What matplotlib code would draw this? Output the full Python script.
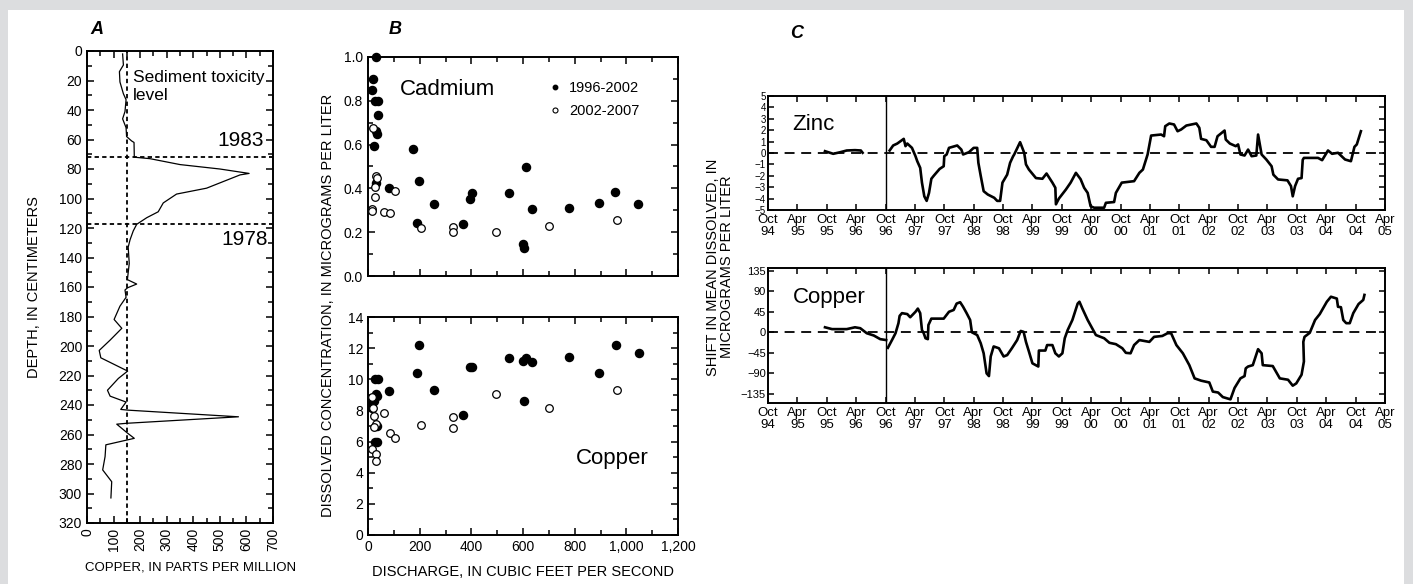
import matplotlib
matplotlib.use('Agg')
import matplotlib.pyplot as plt
import numpy as np
from matplotlib.patches import Rectangle
from matplotlib.lines import Line2D
from matplotlib.ticker import MultipleLocator, FixedLocator

plt.rcParams['font.family'] = ['Liberation Sans Narrow', 'Liberation Sans', 'DejaVu Sans']

# ---------------- DATA ----------------
# Panel A: sediment core
core_copper_ppm = [134, 137, 122, 124, 137, 147, 143, 134, 147, 149, 168, 177, 178, 237, 350, 500, 610,
                   576, 450, 337, 287, 268, 225, 187, 174, 162, 155, 159, 152, 187, 153, 143, 147, 124,
                   102, 131, 87, 46, 52, 153, 118, 77, 87, 147, 127, 155, 570, 149, 112, 152, 178, 71,
                   68, 59, 93, 90]
core_depth_cm = [2, 9.5, 14, 21, 29, 33, 41, 46, 52, 58, 61, 62, 72, 73, 77, 80, 83,
                 84, 93, 97, 103, 109, 113, 117.5, 122, 128, 133, 144, 155, 158, 160.5, 162, 167, 173,
                 182, 188, 196, 203, 208, 217, 222, 230, 234, 238, 243, 243.5, 248, 252.4, 253, 259, 262.6, 267,
                 275, 284, 292, 303]
toxicity_level_ppm = 150
year_depths = [72, 117]
year_labels = ['1983', '1978']

# Panel B: cadmium vs discharge
cd_q_9602 = [31, 21, 17, 27, 37, 37, 31, 33, 25, 31, 83, 176, 199, 188, 257, 369, 395, 404, 545,
             612, 634, 601, 605, 778, 895, 956, 1046]
cd_9602 = [1.0, 0.90, 0.85, 0.80, 0.80, 0.737, 0.66, 0.65, 0.595, 0.425, 0.40, 0.58, 0.434, 0.24, 0.327,
           0.236, 0.35, 0.377, 0.377, 0.496, 0.305, 0.145, 0.127, 0.31, 0.333, 0.382, 0.33]
cd_q_0207 = [21, 31, 33, 27, 26, 14, 17, 63, 85, 106, 205, 330, 328, 495, 700, 965]
cd_0207 = [0.677, 0.457, 0.446, 0.408, 0.362, 0.306, 0.297, 0.292, 0.289, 0.39, 0.218, 0.224, 0.202,
           0.20, 0.23, 0.257]

# Panel B: copper vs discharge
cu_q_9602 = [199, 188, 27, 37, 31, 33, 17, 22, 14, 36, 27, 35, 83, 257, 369, 395, 404, 545, 599, 612,
             634, 605, 778, 895, 960, 1050]
cu_9602 = [12.18, 10.42, 10.0, 10.0, 9.05, 8.9, 8.45, 8.6, 8.17, 7.0, 5.99, 5.99, 9.24, 9.3, 7.68,
           10.76, 10.76, 11.34, 11.2, 11.34, 11.08, 8.62, 11.4, 10.4, 12.2, 11.7]
cu_q_0207 = [14, 21, 25, 31, 25, 14, 30, 31, 63, 85, 106, 205, 330, 328, 495, 700, 965]
cu_0207 = [8.88, 8.17, 7.64, 7.13, 6.91, 5.5, 5.2, 4.77, 7.81, 6.53, 6.2, 7.08, 7.6, 6.89, 9.03, 8.13, 9.3]

# Panel C: shift in mean dissolved (decimal years); NaN marks the data gap
zinc_year = [1995.72, 1995.86, 1995.98, 1996.09, 1996.23, 1996.33, 1996.36, np.nan,
             1996.82, 1996.88, 1996.95, 1997.06, 1997.09, 1997.12, 1997.20, 1997.26, 1997.29, 1997.34,
             1997.37, 1997.41, 1997.45, 1997.49, 1997.53, 1997.57, 1997.67, 1997.74, 1997.75, 1997.79,
             1997.83, 1997.97, 1998.04, 1998.07, 1998.17, 1998.25, 1998.31, 1998.33, 1998.37, 1998.42,
             1998.49, 1998.60, 1998.65, 1998.70, 1998.74, 1998.82, 1998.87, 1998.92, 1998.94, 1999.04,
             1999.11, 1999.14, 1999.19, 1999.31, 1999.42, 1999.49, 1999.59, 1999.64, 1999.65, 1999.70,
             1999.82, 1999.90, 1999.99, 2000.07, 2000.13, 2000.19, 2000.24, 2000.30, 2000.47, 2000.50,
             2000.64, 2000.67, 2000.77, 2000.98, 2001.07, 2001.13, 2001.21, 2001.27, 2001.44, 2001.49,
             2001.51, 2001.58, 2001.66, 2001.72, 2001.78, 2001.87, 2002.04, 2002.09, 2002.12, 2002.21,
             2002.29, 2002.35, 2002.40, 2002.52, 2002.54, 2002.61, 2002.71, 2002.75, 2002.79, 2002.86,
             2002.92, 2002.98, 2003.06, 2003.09, 2003.15, 2003.23, 2003.32, 2003.35, 2003.43, 2003.59,
             2003.65, 2003.68, 2003.72, 2003.77, 2003.83, 2003.85, 2003.87, 2004.11, 2004.18, 2004.28,
             2004.35, 2004.45, 2004.57, 2004.67, 2004.73, 2004.77, 2004.84]
zinc_shift = [0.16, -0.07, 0.07, 0.22, 0.25, 0.22, 0.02, np.nan,
              0.22, 0.66, 0.83, 1.24, 0.6, 0.83, 0.45, -0.28, -0.72, -1.3,
              -2.6, -3.8, -4.2, -3.5, -2.26, -2.0, -1.4, -1.16, -0.28, -0.13,
              0.45, 0.66, 0.3, -0.13, 0.07, 0.45, 0.45, -0.86, -2.0, -3.35,
              -3.64, -3.93, -4.2, -4.2, -2.6, -1.9, -0.86, -0.3, -0.13, 0.95,
              0.02, -1.0, -1.45, -2.2, -2.26, -1.8, -2.6, -3.05, -4.5, -4.0,
              -3.2, -2.6, -1.74, -2.3, -3.05, -3.5, -4.67, -4.8, -4.8, -4.37,
              -4.3, -3.5, -2.6, -2.47, -1.74, -1.45, -0.13, 1.53, 1.62, 1.47,
              2.35, 2.59, 2.5, 1.91, 2.06, 2.41, 2.59, 2.21, 1.24, 1.12,
              0.54, 0.54, 1.47, 1.97, 1.18, 0.83, 0.6, 0.75, -0.13, -0.22,
              0.3, -0.28, -0.22, 1.62, -0.13, -0.57, -1.16, -1.9, -2.32, -2.4,
              -2.9, -3.8, -2.9, -2.26, -2.2, -0.6, -0.43, -0.43, -0.63, 0.22,
              -0.07, 0.02, -0.57, -0.72, 0.54, 0.75, 1.91]

copper_year = [1995.72, 1995.84, 1996.09, 1996.23, 1996.32, 1996.43, 1996.55, 1996.66, 1996.76, np.nan,
               1996.79, 1996.86, 1996.92, 1996.97, 1996.99, 1997.03, 1997.12, 1997.17, 1997.26, 1997.30,
               1997.34, 1997.37, 1997.40, 1997.43, 1997.47, 1997.48, 1997.53, 1997.74, 1997.83, 1997.91,
               1997.96, 1998.02, 1998.07, 1998.13, 1998.19, 1998.22, 1998.31, 1998.37, 1998.42, 1998.47,
               1998.51, 1998.54, 1998.59, 1998.68, 1998.76, 1998.82, 1998.90, 1998.99, 1999.05, 1999.10,
               1999.14, 1999.19, 1999.25, 1999.35, 1999.36, 1999.47, 1999.50, 1999.59, 1999.64, 1999.70,
               1999.76, 1999.80, 1999.85, 1999.93, 2000.02, 2000.05, 2000.10, 2000.19, 2000.33, 2000.47,
               2000.56, 2000.67, 2000.78, 2000.84, 2000.92, 2000.98, 2001.07, 2001.24, 2001.32, 2001.46,
               2001.55, 2001.61, 2001.70, 2001.81, 2001.92, 2002.01, 2002.12, 2002.26, 2002.32, 2002.41,
               2002.49, 2002.62, 2002.69, 2002.79, 2002.86, 2002.88, 2002.92, 2003.00, 2003.09, 2003.15,
               2003.17, 2003.34, 2003.46, 2003.60, 2003.68, 2003.74, 2003.83, 2003.87, 2003.86, 2003.88,
               2003.97, 2004.06, 2004.14, 2004.26, 2004.33, 2004.43, 2004.45, 2004.50, 2004.54, 2004.59,
               2004.65, 2004.71, 2004.80, 2004.88, 2004.90]
copper_shift = [11, 7, 7, 11, 9, -2, -7, -15, -17, np.nan,
                -34, -17, -2, 20, 36, 42, 40, 33, 45, 52,
                42, 5, -2, -13, -15, 16, 30, 30, 45, 49,
                63, 66, 56, 42, 27, 0, -6, -24, -46, -90,
                -96, -53, -31, -35, -53, -50, -35, -17, 3, 1,
                -21, -42, -68, -75, -40, -40, -28, -28, -46, -53,
                -46, -13, 5, 27, 63, 67, 52, 27, -6, -13,
                -23, -26, -35, -45, -46, -28, -17, -21, -10, -8,
                -2, -2, -28, -46, -72, -101, -106, -110, -130, -132,
                -142, -147, -122, -101, -96, -79, -75, -72, -37, -46,
                -72, -74, -101, -104, -117, -112, -93, -64, -21, -10,
                -1, 27, 40, 67, 78, 74, 56, 55, 27, 20,
                20, 42, 62, 71, 82]

c_tick_years = [1994.75 + 0.5 * i for i in range(22)]
c_tick_labels = [('Oct' if i % 2 == 0 else 'Apr') + '\n' + '%02d' % (int(1994.75 + 0.5 * i) % 100)
                 for i in range(22)]
c_break_year = 1996.75

# ---------------- FIGURE ----------------
W, H = 1413, 584
fig = plt.figure(figsize=(W / 100, H / 100), dpi=100)
fig.patch.set_facecolor('#dcdddf')
fig.patches.append(Rectangle((8 / W, 0), (1404 - 8) / W, (584 - 10) / H, transform=fig.transFigure,
                             facecolor='white', edgecolor='none', zorder=-10))


def box(l, t, r, b):
    return [l / W, 1 - b / H, (r - l) / W, (b - t) / H]


def style(ax, fs=10):
    ax.set_facecolor('none')
    for s in ax.spines.values():
        s.set_linewidth(1.4)
    ax.tick_params(which='both', direction='in', top=True, right=True, width=1.1, labelsize=fs)
    ax.tick_params(which='major', length=5)
    ax.tick_params(which='minor', length=3.5)


# Panel A
axA = fig.add_axes(box(87, 51, 273, 523))
axA.plot(core_copper_ppm, core_depth_cm, color='black', lw=0.9)
axA.axvline(toxicity_level_ppm, color='black', lw=1.3, ls=(0, (2.4, 1.8)))
for d in year_depths:
    axA.axhline(d, color='black', lw=1.3, ls=(0, (2.4, 1.8)))
axA.set_xlim(0, 700)
axA.set_ylim(320, 0)
axA.xaxis.set_major_locator(MultipleLocator(100))
axA.xaxis.set_minor_locator(MultipleLocator(50))
axA.yaxis.set_major_locator(MultipleLocator(20))
axA.yaxis.set_minor_locator(MultipleLocator(10))
style(axA, 10)
axA.tick_params(axis='x', labelrotation=90)
axA.set_ylabel('DEPTH, IN CENTIMETERS', fontsize=10.5, labelpad=13)
axA.text(0.245, 0.96, 'Sediment toxicity\nlevel', transform=axA.transAxes, ha='left', va='top',
         fontsize=12.5, linespacing=1.25)
axA.text(0.70, 0.81, year_labels[0], transform=axA.transAxes, ha='left', va='center', fontsize=15)
axA.text(0.725, 0.60, year_labels[1], transform=axA.transAxes, ha='left', va='center', fontsize=15)
fig.text(85 / W, 1 - 568 / H, 'COPPER, IN PARTS PER MILLION', ha='left', va='center', fontsize=9.5)

# Panel B top: cadmium
axB1 = fig.add_axes(box(368, 57, 678, 276))
axB1.scatter(cd_q_9602, cd_9602, s=34, color='black', zorder=3, clip_on=False)
axB1.scatter(cd_q_0207, cd_0207, s=30, facecolor='white', edgecolor='black', lw=0.9, zorder=3)
axB1.set_xlim(0, 1200)
axB1.set_ylim(0, 1.0)
axB1.xaxis.set_major_locator(MultipleLocator(200))
axB1.xaxis.set_minor_locator(MultipleLocator(100))
axB1.yaxis.set_major_locator(MultipleLocator(0.2))
axB1.yaxis.set_minor_locator(MultipleLocator(0.1))
axB1.yaxis.set_major_formatter(matplotlib.ticker.FormatStrFormatter('%.1f'))
style(axB1, 10)
axB1.tick_params(axis='x', labelbottom=False)
axB1.text(0.103, 0.85, 'Cadmium', transform=axB1.transAxes, ha='left', va='center', fontsize=16)
hands = [Line2D([], [], marker='o', ls='', color='black', markersize=3.2),
         Line2D([], [], marker='o', ls='', markerfacecolor='white', markeredgecolor='black',
                markersize=3.6, markeredgewidth=0.8)]
axB1.legend(hands, ['1996-2002', '2002-2007'], loc='upper left', bbox_to_anchor=(0.55, 0.93),
            frameon=False, fontsize=10.5, handlelength=1.0, handletextpad=0.5, labelspacing=0.6,
            borderaxespad=0.2)

# Panel B bottom: copper
axB2 = fig.add_axes(box(368, 317, 678, 535))
axB2.scatter(cu_q_9602, cu_9602, s=34, color='black', zorder=3)
axB2.scatter(cu_q_0207, cu_0207, s=30, facecolor='white', edgecolor='black', lw=0.9, zorder=3)
axB2.set_xlim(0, 1200)
axB2.set_ylim(0, 14)
axB2.xaxis.set_major_locator(MultipleLocator(200))
axB2.xaxis.set_minor_locator(MultipleLocator(100))
axB2.yaxis.set_major_locator(MultipleLocator(2))
axB2.yaxis.set_minor_locator(MultipleLocator(1))
axB2.xaxis.set_major_formatter(matplotlib.ticker.FuncFormatter(lambda v, p: '{:,.0f}'.format(v)))
style(axB2, 10)
axB2.text(0.671, 0.353, 'Copper', transform=axB2.transAxes, ha='left', va='center', fontsize=16)
axB2.set_xlabel('DISCHARGE, IN CUBIC FEET PER SECOND', fontsize=10.5, labelpad=8)
fig.text(328 / W, 1 - 305 / H, 'DISSOLVED CONCENTRATION, IN MICROGRAMS PER LITER', rotation=90,
         ha='center', va='center', fontsize=10.5)

# Panel C
axC1 = fig.add_axes(box(768, 96, 1385, 210))
axC2 = fig.add_axes(box(768, 268, 1385, 403))
for ax, xs, ys in ((axC1, zinc_year, zinc_shift), (axC2, copper_year, copper_shift)):
    ax.plot(xs, ys, color='black', lw=1.9)
    ax.axhline(0, color='black', lw=1.3, ls=(0, (5.5, 3.7)))
    ax.axvline(c_break_year, color='black', lw=1.0)
    ax.set_xlim(1994.75, 2005.25)
    ax.xaxis.set_major_locator(FixedLocator(c_tick_years))
    style(ax, 9.5)
    ax.set_xticklabels(c_tick_labels, fontsize=9.5, linespacing=0.95)
    ax.tick_params(axis='both', length=4, pad=2)
    ax.tick_params(axis='x', pad=3)
axC1.set_ylim(-5, 5)
axC1.yaxis.set_major_locator(MultipleLocator(1))
axC1.tick_params(axis='y', labelsize=7, pad=1.5)
axC2.set_ylim(-155, 141)
axC2.yaxis.set_major_locator(FixedLocator([-135, -90, -45, 0, 45, 90, 135]))
axC2.tick_params(axis='y', labelsize=8, pad=1.5)
axC1.text(0.04, 0.746, 'Zinc', transform=axC1.transAxes, ha='left', va='center', fontsize=16)
axC2.text(0.04, 0.778, 'Copper', transform=axC2.transAxes, ha='left', va='center', fontsize=16)
fig.text(720 / W, 1 - 267 / H, 'SHIFT IN MEAN DISSOLVED, IN\nMICROGRAMS PER LITER', rotation=90,
         ha='center', va='center', fontsize=10.5, multialignment='center', linespacing=1.05)

# Panel letters
for lbl, x, y in (('A', 97, 29), ('B', 395, 29), ('C', 797, 33)):
    fig.text(x / W, 1 - y / H, lbl, ha='center', va='center', fontsize=13, fontweight='bold',
             fontstyle='italic', family=['Liberation Sans', 'DejaVu Sans'])

fig.savefig('out.png', dpi=100, facecolor=fig.get_facecolor())
